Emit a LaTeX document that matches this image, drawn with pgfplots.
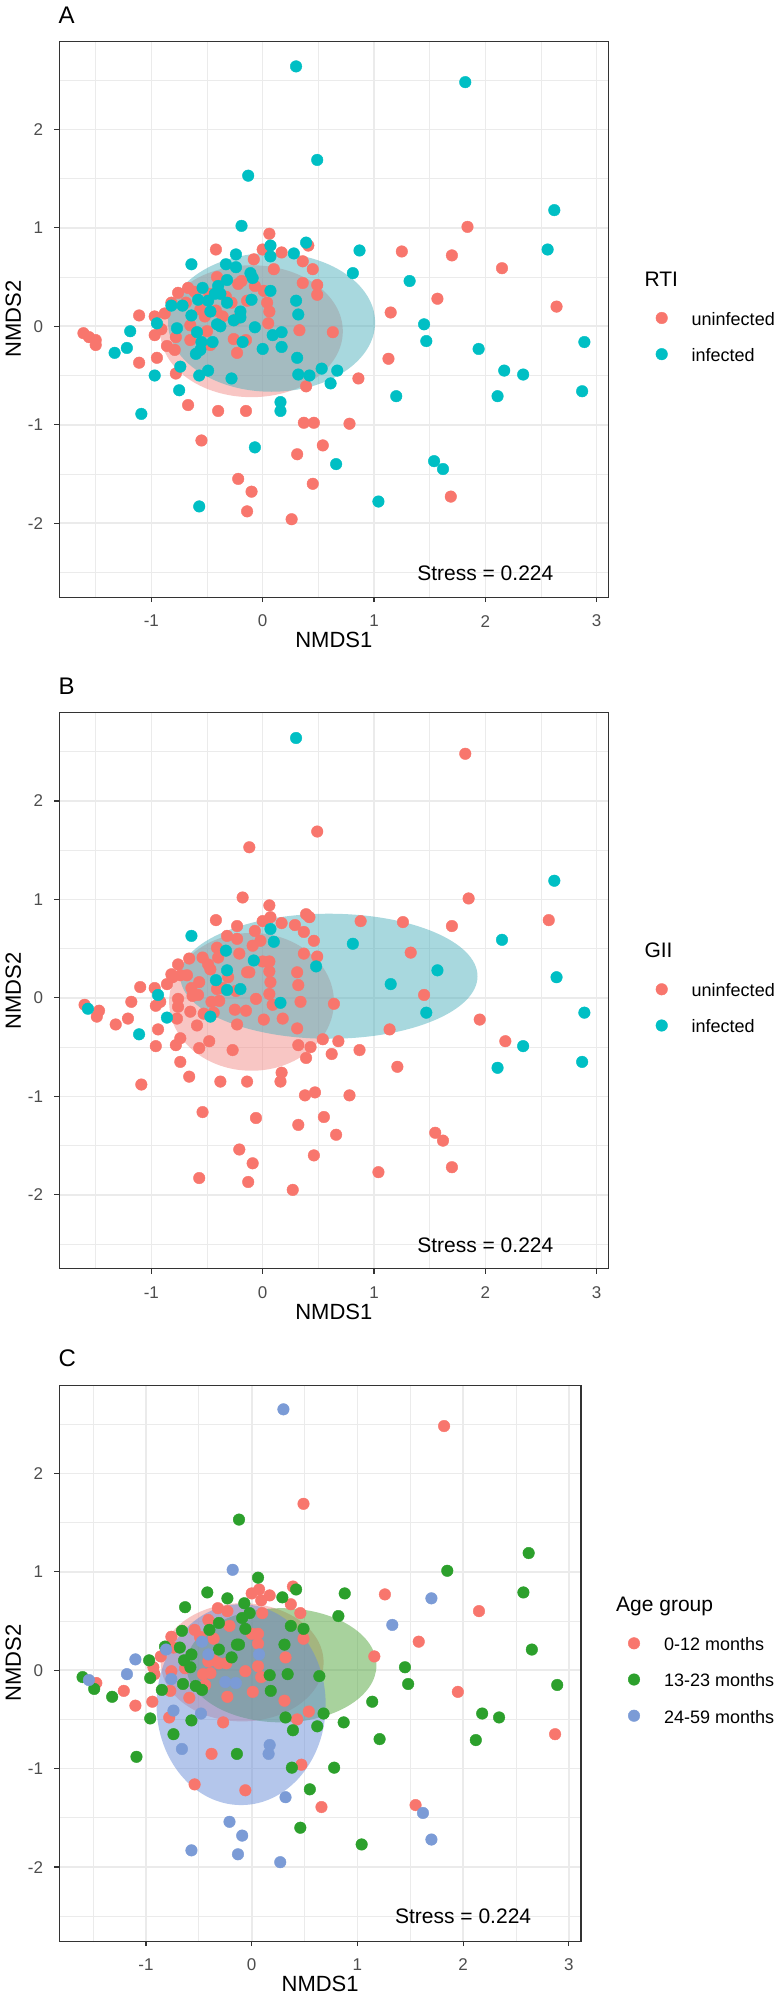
\documentclass[border=0pt]{standalone}
\usepackage{fontspec}
\setmainfont{Liberation Sans}
\usepackage{pgfplots}
\pgfplotsset{compat=1.18}
\definecolor{rred}{HTML}{F8766D}
\definecolor{rteal}{HTML}{00BFC4}
\definecolor{cgreen}{HTML}{2CA02C}
\definecolor{cblue}{HTML}{7B9BD6}
\definecolor{ered}{RGB}{241,141,137}
\definecolor{eteal}{RGB}{81,177,189}
\definecolor{egreen}{RGB}{81,165,60}
\definecolor{eblue}{RGB}{105,141,215}
\definecolor{gridc}{RGB}{235,235,235}
\definecolor{framec}{RGB}{51,51,51}
\definecolor{tickc}{RGB}{77,77,77}
\newcommand{\fs}[1]{\fontsize{#1}{#1}\selectfont}
\pgfplotsset{
  pts/.style={only marks, mark=*, color=#1, mark size=5.8pt, mark options={fill=#1, draw=#1, line width=0.4pt}},
  nmds/.style={
    scale only axis, anchor=north west,
    width=549pt, height=556pt,
    xmin=-1.827, xmax=3.105, ymin=-2.752, ymax=2.896,
    xtick={-1,0,1,2,3}, xticklabels={-1,0,1,2,3},
    ytick={-2,-1,0,1,2}, yticklabels={-2,-1,0,1,2},
    minor xtick={-1.5,-0.5,0.5,1.5,2.5},
    minor ytick={-2.5,-1.5,-0.5,0.5,1.5,2.5},
    grid=both,
    major grid style={draw=gridc, line width=1.6pt},
    minor grid style={draw=gridc, line width=0.8pt},
    tick align=outside, tick pos=left,
    major tick length=5pt, minor tick length=0pt,
    major tick style={draw=framec, line width=1.2pt},
    axis line style={draw=framec, line width=1.2pt},
    ticklabel style={font=\fs{17}, text=tickc, inner sep=0pt},
    xticklabel style={anchor=center, yshift=-18.9pt},
    yticklabel style={anchor=east, xshift=-11pt},
    xlabel={NMDS1}, ylabel={NMDS2},
    xlabel style={font=\fs{22}, at={(axis description cs:0.5,-0.0773)}, anchor=center, inner sep=0pt},
    ylabel style={font=\fs{22}, anchor=center, inner sep=0pt},
    legend style={draw=none, fill=none, inner sep=0pt, outer sep=0pt, row sep=19.2pt,
      font=\fs{18}, cells={anchor=west},
      nodes={inner sep=0pt, text height=15.8pt, text depth=1.2pt}},
    legend image code/.code={\path[draw=none, fill=none] (-8pt,-8.5pt) rectangle (30pt,8.5pt); \draw[##1] plot coordinates {(0pt,0pt)};},
  }
}
\begin{document}
\begin{tikzpicture}
\useasboundingbox (0pt,0pt) rectangle (780pt,-1996pt);
% ---------------- Panel A ----------------
\begin{axis}[nmds, at={(59.3pt,-41.2pt)},
  ylabel style={at={(axis description cs:-0.0838,0.5)}},
  legend style={at={(1.0827,0.5175)}, anchor=north west}]
\fill[ered, opacity=0.5] (axis cs:-0.10,-0.05) ellipse [x radius=0.82, y radius=0.67];
\fill[eteal, opacity=0.5] (axis cs:0.08,0.04) ellipse [x radius=0.93, y radius=0.705];
\addplot[pts=rred] coordinates {
(-1.61,-0.07) (-1.56,-0.11) (-1.50,-0.14) (-1.50,-0.19) (-1.11,0.11) (-1.11,-0.37) (-0.97,0.10) (-0.97,-0.09) (-0.95,-0.32) (-0.91,-0.03) (-0.88,0.13) (-0.86,-0.20) (-0.79,-0.24) (-0.78,-0.48) (-0.78,-0.11) (-0.82,0.24) (-0.76,0.34) (-0.67,-0.80) (-0.65,0.01) (-0.65,-0.14) (-0.67,0.39) (-0.61,0.35) (-0.69,0.24) (-0.55,-1.16) (-0.56,0.17) (-0.48,0.33) (-0.47,-0.19) (-0.42,0.78) (-0.41,0.50) (-0.42,0.16) (-0.50,-0.05) (-0.40,-0.86) (-0.26,-0.13) (-0.23,-0.27) (-0.22,-1.55) (-0.22,0.43) (-0.19,0.46) (-0.15,-0.86) (-0.15,-0.14) (-0.14,0.26) (-0.10,-1.68) (-0.14,-1.88) (-0.08,0.68) (-0.07,0.41) (0.00,0.78) (0.01,0.36) (0.06,0.94) (0.04,0.24) (0.06,0.15) (0.05,0.03) (0.10,0.58) (0.17,0.75) (0.26,-1.96) (0.31,-1.30) (0.33,-0.04) (0.36,0.66) (0.36,0.44) (0.39,-0.61) (0.37,-0.98) (0.41,0.82) (0.45,0.58) (0.46,-0.98) (0.45,-1.60) (0.49,0.42) (0.49,0.32) (0.54,-1.21) (0.63,-0.06) (0.78,-0.99) (0.86,-0.53) (1.15,0.14) (1.13,-0.33) (1.25,0.76) (1.57,0.28) (1.70,0.72) (1.84,1.01) (2.15,0.59) (2.64,0.20) (1.69,-1.73) (-0.28,0.24) (-0.33,0.30) (-0.52,0.10) (-0.36,0.10) (-0.24,0.07)
};
\addlegendentry{uninfected}
\addplot[pts=rteal] coordinates {
(0.30,2.64) (1.82,2.48) (0.49,1.69) (-0.13,1.53) (-0.19,1.02) (2.62,1.18) (2.56,0.78) (0.87,0.77) (0.81,0.54) (1.32,0.46) (1.45,0.02) (1.47,-0.15) (1.94,-0.23) (2.17,-0.45) (2.34,-0.49) (2.89,-0.16) (2.87,-0.66) (2.11,-0.71) (1.20,-0.71) (0.53,-0.43) (0.67,-0.45) (0.61,-0.58) (0.42,-0.50) (0.66,-1.40) (1.54,-1.37) (1.62,-1.45) (1.04,-1.78) (0.39,0.85) (0.07,0.82) (0.28,0.74) (0.07,0.71) (-0.24,0.73) (-0.24,0.60) (-0.33,0.63) (-0.64,0.63) (-0.11,0.54) (-0.09,0.49) (-0.32,0.47) (-0.40,0.41) (-0.43,0.33) (-0.38,0.33) (-0.54,0.39) (-0.58,0.27) (-0.82,0.21) (-0.72,0.21) (-0.49,0.26) (-0.47,0.15) (-0.32,0.24) (-0.20,0.15) (-0.20,0.09) (-0.26,0.06) (-0.10,0.27) (0.07,0.36) (0.30,0.26) (0.32,0.12) (-0.64,0.11) (-0.41,0.02) (-0.38,0.00) (-0.77,-0.02) (-0.59,-0.06) (-0.95,0.03) (-1.19,-0.05) (-1.22,-0.22) (-1.33,-0.27) (-0.97,-0.50) (-0.74,-0.41) (-0.75,-0.65) (-1.09,-0.89) (-0.57,-0.50) (-0.49,-0.45) (-0.60,-0.28) (-0.56,-0.24) (-0.55,-0.16) (-0.45,-0.16) (-0.28,-0.53) (-0.18,-0.16) (-0.07,-0.01) (0.00,-0.23) (0.09,-0.09) (0.17,-0.06) (0.17,-0.21) (0.31,-0.32) (0.32,-0.49) (0.16,-0.77) (0.16,-0.86) (-0.07,-1.23) (-0.57,-1.83)
};
\addlegendentry{infected}
\node[font=\fs{21}, anchor=center, inner sep=0pt] at (axis cs:2.0,-2.51) {Stress = 0.224};
\end{axis}
\node[font=\fs{24}, anchor=west, inner sep=0pt] at (58.3pt,-15.3pt) {A};
\node[font=\fs{21}, anchor=base west, inner sep=0pt] at (644.3pt,-286.1pt) {RTI};
% ---------------- Panel B ----------------
\begin{axis}[nmds, at={(59.3pt,-712.8pt)},
  ylabel style={at={(axis description cs:-0.0838,0.5)}},
  legend style={at={(1.0827,0.518)}, anchor=north west}]
\fill[ered, opacity=0.5] (axis cs:-0.10,-0.04) ellipse [x radius=0.74, y radius=0.70];
\fill[eteal, opacity=0.5] (axis cs:0.595,0.22) ellipse [x radius=1.335, y radius=0.635];
\addplot[pts=rred] coordinates {
(1.82,2.48) (0.49,1.69) (1.26,0.77) (1.95,-0.22) (0.54,-0.42) (0.66,-1.39) (1.55,-1.37) (0.39,0.85) (0.17,0.76) (0.00,0.78) (0.07,0.82) (0.37,0.67) (0.46,0.58) (0.32,0.13) (0.06,0.37) (0.00,0.37) (0.06,0.27) (0.06,0.04) (0.09,-0.07) (-0.06,-0.01) (0.01,-0.22) (0.31,-0.31) (-0.23,-0.27) (-0.27,-0.53) (-0.38,-0.85) (-0.06,-1.22) (-0.54,-1.16) (0.47,-0.96) (0.43,-0.50) (-0.32,0.63) (-0.23,0.60) (-0.21,0.45) (-0.41,0.51) (-0.49,0.34) (-0.54,0.41) (-0.76,0.34) (-0.74,0.23) (-0.86,0.14) (-0.36,0.10) (-0.24,0.07) (-0.39,-0.03) (-0.46,-0.04) (-0.63,0.02) (-0.76,-0.01) (-0.77,-0.21) (-0.92,-0.04) (-0.59,-0.28) (-0.94,-0.32) (-1.21,-0.21) (-1.47,-0.13) (-0.78,-0.48) (-0.41,0.09) (-0.44,-0.15)
(-0.12,1.53) (0.06,0.94) (-0.42,0.79) (-0.23,0.73) (-0.07,0.68) (-0.02,0.58) (-0.09,0.53) (0.29,0.74) (0.42,0.82) (0.37,0.45) (0.49,0.42) (0.31,0.26) (0.34,-0.04) (0.18,-0.21) (0.64,-0.06) (0.32,-0.48) (0.39,-0.61) (0.68,-0.44) (0.62,-0.57) (0.38,-0.99) (0.78,-0.99) (0.55,-1.21) (0.46,-1.60) (1.04,-1.77) (-0.14,-0.85) (-0.74,-0.65) (-0.57,-0.51) (-0.96,-0.49) (-1.09,-0.88) (-1.32,-0.27) (-1.49,-0.19) (-1.60,-0.07) (-0.97,0.10) (-0.96,-0.08) (-0.82,0.24) (-0.68,0.23) (-0.66,0.40) (-0.65,-0.14) (-0.53,-0.16) (-0.57,0.16) (-0.40,0.41) (-0.31,0.21) (-0.14,0.26) (-0.12,0.26) (-0.64,0.10) (-0.58,0.03) (1.85,1.01) (2.57,0.79) (0.88,0.78) (1.45,0.03) (1.14,-0.32) (2.18,-0.44) (1.21,-0.70) (0.87,-0.53)
(-0.18,1.02) (-1.10,0.11) (-1.18,-0.04) (-0.81,0.21) (-0.76,-0.09) (-0.74,-0.41) (-0.48,-0.44) (-0.66,-0.80) (-0.25,-0.12) (-0.15,-0.13) (0.07,0.16) (0.17,-0.76) (0.16,-0.85) (0.32,-1.29) (-0.21,-1.54) (-0.09,-1.68) (-0.13,-1.87) (-0.57,-1.83) (0.27,-1.95) (-0.47,0.29) (1.70,0.73) (1.33,0.46) (1.62,-1.45) (1.70,-1.72)
};
\addlegendentry{uninfected}
\addplot[pts=rteal] coordinates {
(0.30,2.64) (-1.57,-0.11) (-1.11,-0.37) (-0.94,0.03) (-0.86,-0.20) (-0.64,0.63) (-0.47,-0.19) (-0.42,0.18) (-0.33,0.48) (-0.32,0.28) (-0.32,0.08) (-0.20,0.09) (-0.08,0.38) (0.07,0.70) (0.10,0.57) (0.16,-0.05) (0.48,0.32) (0.81,0.55) (1.15,0.14) (1.57,0.28) (1.47,-0.15) (2.15,0.59) (2.62,1.19) (2.64,0.21) (2.89,-0.15) (2.87,-0.65) (2.34,-0.49) (2.11,-0.71)
};
\addlegendentry{infected}
\node[font=\fs{21}, anchor=center, inner sep=0pt] at (axis cs:2.0,-2.51) {Stress = 0.224};
\end{axis}
\node[font=\fs{24}, anchor=west, inner sep=0pt] at (58.3pt,-686.3pt) {B};
\node[font=\fs{21}, anchor=base west, inner sep=0pt] at (644.3pt,-957.8pt) {GII};
% ---------------- Panel C ----------------
\begin{axis}[nmds, at={(59.3pt,-1385.1pt)}, width=521.7pt, xmin=-1.82, xmax=3.115,
  ylabel style={at={(axis description cs:-0.0882,0.5)}},
  legend style={at={(1.0863,0.5509)}, anchor=north west}]
\fill[ered, opacity=0.5] (axis cs:-0.09,0.08) ellipse [x radius=0.77, y radius=0.6];
\fill[egreen, opacity=0.5] (axis cs:0.28,0.05) ellipse [x radius=0.9, y radius=0.58];
\fill[eblue, opacity=0.5] (axis cs:-0.10,-0.35) ellipse [x radius=0.8, y radius=1.02];
\addplot[pts=rred] coordinates {
(1.82,2.48) (0.49,1.69) (1.26,0.77) (2.15,0.60) (1.58,0.29) (1.16,0.14) (1.95,-0.22) (2.87,-0.65) (0.54,-0.42) (0.66,-1.39) (1.55,-1.37) (0.39,0.85) (0.17,0.76) (0.00,0.78) (0.07,0.82) (0.09,0.71) (0.37,0.67) (0.46,0.58) (0.49,0.32) (0.32,0.13) (0.10,0.58) (0.06,0.37) (0.00,0.37) (0.06,0.27) (0.06,0.04) (0.09,-0.07) (-0.06,-0.01) (0.01,-0.22) (0.31,-0.31) (-0.23,-0.27) (-0.27,-0.53) (-0.38,-0.85) (-0.06,-1.22) (-0.54,-1.16) (0.47,-0.96) (0.43,-0.50) (-0.32,0.63) (-0.23,0.60) (-0.21,0.45) (-0.41,0.51) (-0.49,0.34) (-0.54,0.41) (-0.76,0.34) (-0.74,0.23) (-0.86,0.14) (-0.36,0.32) (-0.36,0.10) (-0.31,0.07) (-0.24,0.07) (-0.39,-0.03) (-0.46,-0.04) (-0.63,0.02) (-0.76,-0.01) (-0.77,-0.21) (-0.93,0.03) (-0.92,-0.04) (-0.59,-0.28) (-0.94,-0.32) (-1.10,-0.36) (-1.21,-0.21) (-1.47,-0.13) (-0.78,-0.48) (-0.41,0.09) (-0.44,-0.15)
};
\addlegendentry{0-12 months}
\addplot[pts=cgreen] coordinates {
(-0.12,1.53) (0.06,0.94) (-0.42,0.79) (-0.23,0.73) (-0.63,0.64) (-0.07,0.68) (-0.02,0.58) (-0.09,0.53) (-0.06,0.42) (0.29,0.74) (0.42,0.82) (0.37,0.45) (0.49,0.42) (0.31,0.26) (0.34,-0.04) (0.17,-0.05) (0.18,-0.21) (0.64,-0.06) (0.32,-0.48) (0.39,-0.61) (0.68,-0.44) (0.62,-0.57) (0.38,-0.99) (0.78,-0.99) (0.55,-1.21) (0.46,-1.60) (1.04,-1.77) (-0.14,-0.85) (-0.74,-0.65) (-0.57,-0.51) (-0.96,-0.49) (-1.09,-0.88) (-1.32,-0.27) (-1.49,-0.19) (-1.60,-0.07) (-0.97,0.10) (-0.96,-0.08) (-0.85,-0.20) (-0.82,0.24) (-0.68,0.23) (-0.66,0.40) (-0.65,-0.14) (-0.53,-0.16) (-0.47,-0.20) (-0.57,0.16) (-0.40,0.41) (-0.31,0.48) (-0.31,0.21) (-0.19,0.13) (-0.14,0.26) (-0.12,0.26) (-0.64,0.10) (-0.58,0.03) (1.85,1.01) (2.62,1.19) (2.57,0.79) (0.88,0.78) (0.82,0.55) (2.65,0.21) (1.45,0.03) (1.48,-0.14) (2.89,-0.15) (1.14,-0.32) (2.18,-0.44) (2.34,-0.48) (2.12,-0.71) (1.21,-0.70) (0.87,-0.53)
};
\addlegendentry{13-23 months}
\addplot[pts=cblue] coordinates {
(0.30,2.65) (-0.18,1.02) (-1.10,0.11) (-1.18,-0.04) (-1.54,-0.10) (-0.81,0.21) (-0.76,-0.09) (-0.74,-0.41) (-0.48,-0.44) (-0.66,-0.80) (-0.41,0.16) (-0.25,-0.12) (-0.15,-0.13) (0.07,0.16) (0.17,-0.76) (0.16,-0.85) (0.32,-1.29) (-0.21,-1.54) (-0.09,-1.68) (-0.13,-1.87) (-0.57,-1.83) (0.27,-1.95) (-0.47,0.29) (1.70,0.73) (1.33,0.46) (1.62,-1.45) (1.70,-1.72)
};
\addlegendentry{24-59 months}
\node[font=\fs{21}, anchor=center, inner sep=0pt] at (axis cs:2.0,-2.50) {Stress = 0.224};
\end{axis}
\node[font=\fs{24}, anchor=west, inner sep=0pt] at (58.3pt,-1358.4pt) {C};
\node[font=\fs{21}, anchor=base west, inner sep=0pt] at (616pt,-1611.9pt) {Age group};
\end{tikzpicture}
\end{document}
